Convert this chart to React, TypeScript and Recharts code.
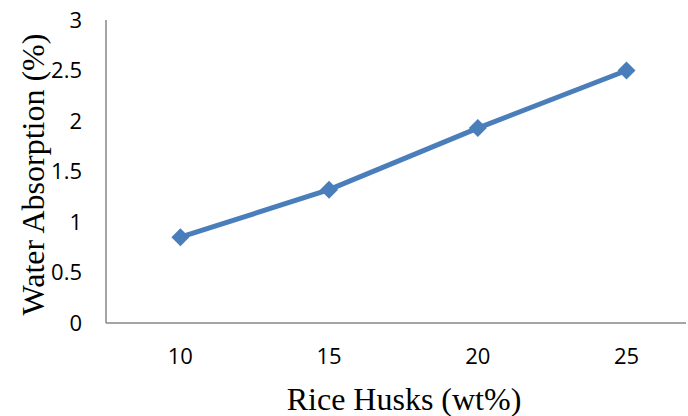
import { LineChart, Line, XAxis, YAxis, Label } from 'recharts';

const huskContent = [10, 15, 20, 25];
const waterAbsorption = [0.85, 1.32, 1.93, 2.5];
const yTicks = [0, 0.5, 1, 1.5, 2, 2.5, 3];

const data = huskContent.map((wt, i) => ({ wt, absorption: waterAbsorption[i] }));

const BLUE = '#4a7ebb';
const AXIS = '#878787';
const TICK_FONT = '"Open Sans", Lato, sans-serif';
const TITLE_FONT = '"Liberation Serif", "Times New Roman", serif';

const tickStyle = { fill: '#000', fontSize: 22, fontFamily: TICK_FONT, style: { fontSize: '22px' } };

// Excel-style filled diamond marker
function Diamond(props: any) {
  const { cx, cy } = props;
  if (cx == null || cy == null) return null;
  const r = 9;
  return (
    <path
      d={`M${cx},${cy - r} L${cx + r},${cy} L${cx},${cy + r} L${cx - r},${cy} Z`}
      fill={BLUE}
      stroke="none"
    />
  );
}

function YTitle(props: any) {
  const { viewBox } = props;
  const x = 44;
  const y = viewBox.y + viewBox.height / 2 + 3;
  return (
    <text
      x={x}
      y={y}
      transform={`rotate(-90, ${x}, ${y})`}
      textAnchor="middle"
      fontFamily={TITLE_FONT}
      fontSize={32}
      fill="#000"
    >
      Water Absorption (%)
    </text>
  );
}

function XTitle(props: any) {
  const { viewBox } = props;
  const x = viewBox.x + viewBox.width / 2 + 8;
  return (
    <text x={x} y={410} textAnchor="middle" fontFamily={TITLE_FONT} fontSize={32} fill="#000">
      Rice Husks (wt%)
    </text>
  );
}

export default function App() {
  return (
    <div style={{ position: 'absolute', left: 0, top: 0, background: '#fff', fontSize: 22, fontFamily: TICK_FONT }}>
      <LineChart width={688} height={416} data={data} margin={{ top: 20, right: 2, bottom: 0, left: 0 }}>
        <XAxis
          dataKey="wt"
          type="number"
          domain={[7.5, 27.0]}
          ticks={huskContent}
          allowDataOverflow
          height={93}
          axisLine={{ stroke: AXIS, strokeWidth: 1.5 }}
          tickLine={false}
          tickSize={0}
          tickMargin={25}
          tick={tickStyle}
        >
          <Label content={<XTitle />} />
        </XAxis>
        <YAxis
          domain={[0, 3]}
          ticks={yTicks}
          width={106}
          axisLine={{ stroke: AXIS, strokeWidth: 1.5 }}
          tickLine={false}
          tickSize={0}
          tickMargin={24}
          tick={tickStyle}
        >
          <Label content={<YTitle />} />
        </YAxis>
        <Line
          dataKey="absorption"
          stroke={BLUE}
          strokeWidth={5}
          dot={<Diamond />}
          activeDot={false}
          isAnimationActive={false}
        />
      </LineChart>
    </div>
  );
}
